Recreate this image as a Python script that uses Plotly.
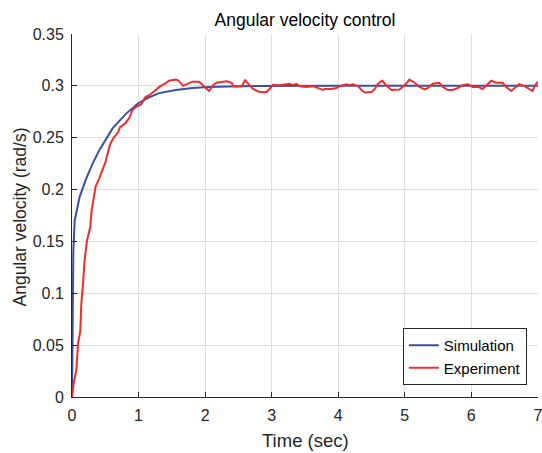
import plotly.graph_objects as go

# Simulation curve
sim_t = [0, 0.005, 0.01, 0.02, 0.04, 0.07, 0.115, 0.21, 0.31, 0.41, 0.51, 0.61, 0.71, 0.81,
         0.99, 1.16, 1.31, 1.56, 1.81, 2.06, 2.51, 3.0, 4.0, 5.0, 6.0, 7.0]
sim_v = [0, 0.06, 0.10, 0.14, 0.17, 0.18, 0.193, 0.21, 0.225, 0.238, 0.249, 0.259, 0.266, 0.273,
         0.283, 0.289, 0.293, 0.296, 0.298, 0.299, 0.2997, 0.2999, 0.3, 0.3, 0.3, 0.3]

# Experiment curve
exp_t = [0, 0.025, 0.065, 0.09, 0.125, 0.14, 0.165, 0.19, 0.225, 0.275, 0.295, 0.31, 0.355, 0.405,
         0.455, 0.505, 0.54, 0.575, 0.625, 0.69, 0.72, 0.8, 0.86, 0.91, 0.97, 1.04, 1.1, 1.16, 1.24,
         1.31, 1.39, 1.46, 1.56, 1.6, 1.67, 1.74, 1.81, 1.91, 1.96, 2.0, 2.06, 2.12, 2.17, 2.32, 2.4,
         2.42, 2.55, 2.6, 2.65, 2.72, 2.82, 2.92, 2.97, 3.02, 3.12, 3.22, 3.27, 3.32, 3.37, 3.42,
         3.52, 3.62, 3.7, 3.77, 3.8, 3.9, 3.97, 4.02, 4.12, 4.17, 4.22, 4.3, 4.35, 4.4, 4.5, 4.55,
         4.6, 4.66, 4.72, 4.8, 4.92, 5.0, 5.07, 5.15, 5.22, 5.3, 5.35, 5.42, 5.52, 5.57, 5.65, 5.72,
         5.8, 5.87, 5.95, 6.02, 6.1, 6.17, 6.23, 6.3, 6.37, 6.47, 6.52, 6.6, 6.67, 6.72, 6.8, 6.87,
         6.92, 6.95, 7.0]
exp_v = [0, 0.013, 0.026, 0.051, 0.064, 0.09, 0.109, 0.132, 0.151, 0.164, 0.18, 0.186, 0.203, 0.21,
         0.219, 0.227, 0.236, 0.244, 0.25, 0.255, 0.26, 0.264, 0.269, 0.277, 0.28, 0.282, 0.289,
         0.291, 0.295, 0.299, 0.302, 0.305, 0.306, 0.305, 0.300, 0.302, 0.304, 0.304, 0.301, 0.298,
         0.295, 0.3006, 0.303, 0.3045, 0.303, 0.2997, 0.2997, 0.3055, 0.302, 0.297, 0.294, 0.294,
         0.297, 0.301, 0.3006, 0.3016, 0.302, 0.3006, 0.302, 0.2997, 0.299, 0.2997, 0.298, 0.296,
         0.297, 0.297, 0.298, 0.2997, 0.3016, 0.3006, 0.3016, 0.2997, 0.296, 0.2936, 0.294, 0.297,
         0.302, 0.305, 0.3006, 0.296, 0.2965, 0.3006, 0.306, 0.303, 0.299, 0.2965, 0.298, 0.302,
         0.303, 0.299, 0.296, 0.296, 0.298, 0.3006, 0.3016, 0.299, 0.299, 0.297, 0.3006, 0.305,
         0.303, 0.303, 0.299, 0.295, 0.299, 0.3016, 0.2997, 0.2965, 0.295, 0.2997, 0.304]

x_ticks = [0, 1, 2, 3, 4, 5, 6, 7]
y_ticks = [0, 0.05, 0.1, 0.15, 0.2, 0.25, 0.3, 0.35]
y_tick_labels = ["0", "0.05", "0.1", "0.15", "0.2", "0.25", "0.3", "0.35"]

FONT = "Liberation Sans, Arial, sans-serif"
AX = "#262626"
W, H = 542, 453
L, R, T, B = 72, 4, 34, 56
PW, PH = W - L - R, H - T - B

fig = go.Figure()
fig.add_trace(go.Scatter(x=sim_t, y=sim_v, mode="lines", name="Simulation",
                         line=dict(color="#3b4fa2", width=2)))
fig.add_trace(go.Scatter(x=exp_t, y=exp_v, mode="lines", name="Experiment",
                         line=dict(color="#f02c2c", width=2)))

fig.update_layout(
    width=W, height=H,
    margin=dict(l=L, r=R, t=T, b=B, autoexpand=False),
    paper_bgcolor="white", plot_bgcolor="white",
    font=dict(family=FONT, color=AX, size=16),
    title=dict(text="Angular velocity control", x=0.5, xanchor="center",
               xref="paper", y=1 - 20 / H, yref="container", yanchor="middle",
               font=dict(size=17.5, color="black", family=FONT)),
    legend=dict(x=0.976, y=0.033, xanchor="right", yanchor="bottom",
                bgcolor="white", bordercolor=AX, borderwidth=1,
                font=dict(size=15, color="black", family=FONT),
                tracegroupgap=0, itemwidth=30),
    showlegend=True,
    annotations=[
        dict(text="Time (sec)", x=0.5, xref="paper", y=(H - B - 441) / PH, yref="paper",
             xanchor="center", yanchor="middle", showarrow=False,
             font=dict(size=18.5, color=AX, family=FONT)),
        dict(text="Angular velocity (rad/s)", x=(19.5 - L) / PW, xref="paper",
             y=(H - B - 217) / PH, yref="paper",
             xanchor="center", yanchor="middle", showarrow=False, textangle=-90,
             font=dict(size=17.5, color=AX, family=FONT)),
    ],
)
fig.update_xaxes(range=[0, 7.002], tickvals=x_ticks, ticks="inside", ticklen=5,
                 tickcolor=AX, showline=True, linecolor=AX, linewidth=1,
                 showgrid=True, gridcolor="#dedede", gridwidth=1, zeroline=False,
                 automargin=False, ticklabeloverflow="allow",
                 tickfont=dict(size=16, color=AX), ticklabelstandoff=4)
fig.update_yaxes(range=[0, 0.35], tickvals=y_ticks, ticktext=y_tick_labels, ticks="inside",
                 ticklen=5, tickcolor=AX, showline=True, linecolor=AX, linewidth=1,
                 showgrid=True, gridcolor="#dedede", gridwidth=1, zeroline=False,
                 automargin=False, ticklabeloverflow="allow",
                 tickfont=dict(size=16, color=AX), ticklabelstandoff=4)

fig.write_html("out.html", config={"displayModeBar": False},
               post_script="document.body.style.margin='0';document.body.style.overflow='hidden';")
